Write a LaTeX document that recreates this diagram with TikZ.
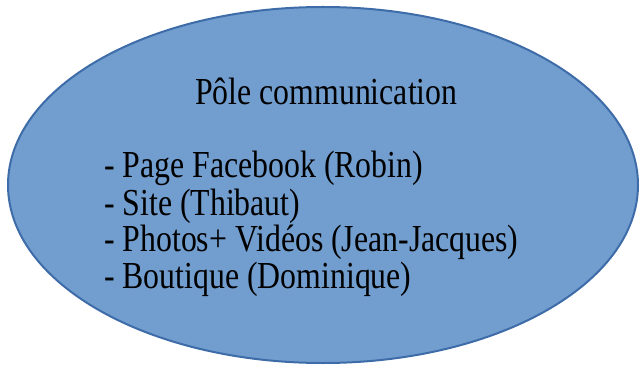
\documentclass[tikz,border=0pt]{standalone}
\usepackage{fontspec}
\usepackage{graphicx}
\setmainfont{Liberation Serif}
\usetikzlibrary{shapes.geometric}
\definecolor{ellfill}{RGB}{114,158,207}
\definecolor{ellline}{RGB}{61,108,168}
\newcommand{\stretchtxt}[1]{\scalebox{1}[1.2]{#1}}
\begin{document}
\begin{tikzpicture}[x=1pt,y=1pt,
  txt/.style={inner sep=0pt,anchor=base west,font=\fontsize{31.8}{36.6}\selectfont}]
\useasboundingbox (0,0) rectangle (642,367);
\fill[white] (0,0) rectangle (642,367);
\node[ellipse,draw=ellline,fill=ellfill,line width=2pt,minimum width=630pt,minimum height=356pt,inner sep=0pt] (ell) at (323,182) {};
\node[txt] (title) at (195,262) {\stretchtxt{Pôle communication}};
\node[txt] (l1) at (104,189) {\stretchtxt{- Page Facebook (Robin)}};
\node[txt] (l2) at (104,151) {\stretchtxt{- Site (Thibaut)}};
\node[txt] (l3) at (104,115) {\stretchtxt{- Photos+ Vidéos (Jean-Jacques)}};
\node[txt] (l4) at (104,79) {\stretchtxt{- Boutique (Dominique)}};
\end{tikzpicture}
\end{document}
